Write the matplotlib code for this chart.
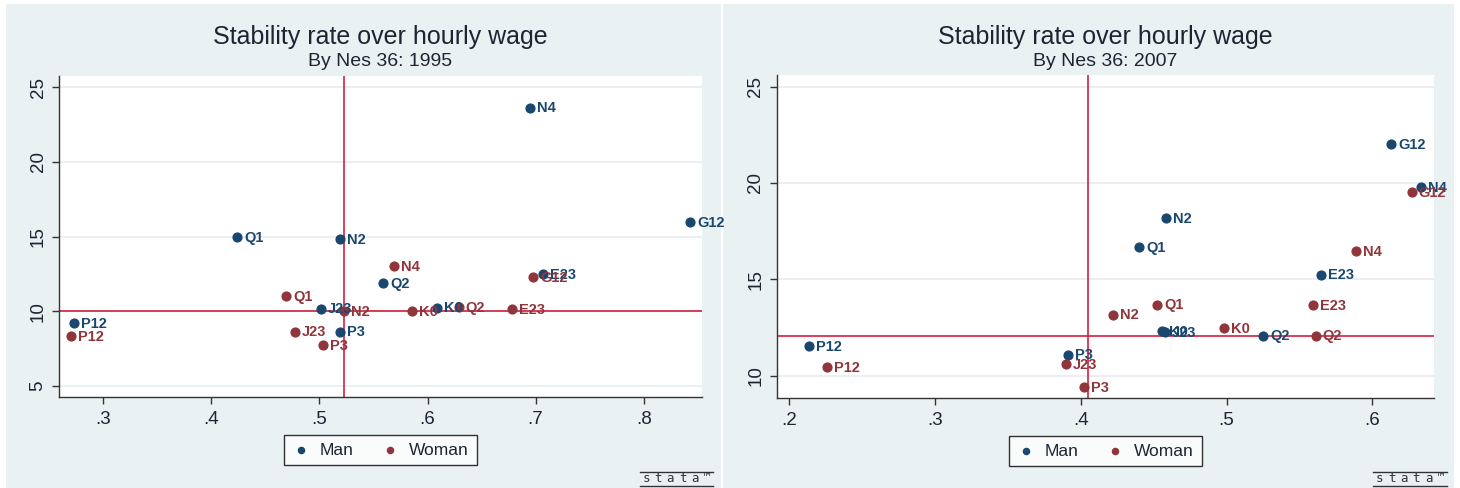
import numpy as np
import matplotlib
matplotlib.use('Agg')
import matplotlib.pyplot as plt
from matplotlib.patches import Rectangle
from matplotlib.lines import Line2D

plt.rcParams['font.family'] = ['Liberation Sans', 'DejaVu Sans']

'Groups (same order for both years)'
groups = ['P12', 'Q1', 'J23', 'P3', 'N2', 'N4', 'K0', 'Q2', 'E23', 'G12']

'1995: hourly wage (x) and stability rate (y)'
man_x_1995 = [.273, .424, .501, .519, .519, .695, .609, .559, .707, .843]
man_y_1995 = [9.19, 14.95, 10.17, 8.63, 14.82, 23.63, 10.24, 11.87, 12.47, 15.96]
woman_x_1995 = [.270, .469, .477, .503, .523, .569, .586, .629, .678, .698]
woman_y_1995 = [8.34, 11.02, 8.63, 7.74, 10.03, 13.03, 10.03, 10.28, 10.15, 12.31]
xline_1995 = .523
yline_1995 = 10.03

'2007'
man_x_2007 = [.214, .440, .458, .3915, .4586, .6336, .456, .525, .565, .613]
man_y_2007 = [11.52, 16.66, 12.25, 11.09, 18.18, 19.77, 12.32, 12.07, 15.24, 22.0]
woman_x_2007 = [.226, .4525, .390, .402, .422, .589, .498, .561, .559, .627]
woman_y_2007 = [10.45, 13.68, 10.61, 9.39, 13.16, 16.45, 12.47, 12.07, 13.65, 19.53]
xline_2007 = .405
yline_2007 = 12.04

xticks_1995 = [.3, .4, .5, .6, .7, .8]
yticks_1995 = [5, 10, 15, 20, 25]
xticks_2007 = [.2, .3, .4, .5, .6]
yticks_2007 = [10, 15, 20, 25]

navy = '#1a476f'
maroon = '#90353b'
refred = '#d0203f'
bg = '#e9f1f3'
grid = '#e6eef0'
txt = '#1f2433'

W, H = 1460, 488
fig = plt.figure(figsize=(W / 100, H / 100), dpi=100)

# panel backgrounds
for x0, x1 in [(6, 721), (723, 1454)]:
    fig.add_artist(Rectangle((x0 / W, 0), (x1 - x0) / W, 1 - 4 / H,
                             transform=fig.transFigure, facecolor=bg,
                             edgecolor='none', zorder=0))


def fmt_x(v):
    return ('%.1f' % v).lstrip('0')


def panel(rect, year, mx, my, wx, wy, xl, yl, xt, yt, xlim, ylim, logo_x):
    ax = fig.add_axes(rect)
    ax.set_facecolor('white')
    ax.set_xlim(*xlim)
    ax.set_ylim(*ylim)
    for s in ['top', 'right']:
        ax.spines[s].set_visible(False)
    for s in ['left', 'bottom']:
        ax.spines[s].set_color('#333333')
        ax.spines[s].set_linewidth(1.0)
    ax.set_xticks(xt)
    ax.set_xticklabels([fmt_x(v) for v in xt])
    ax.set_yticks(yt)
    ax.set_yticklabels([str(v) for v in yt], rotation=90, va='center')
    ax.tick_params(direction='out', length=5, width=1, color='#333333',
                   labelsize=13.5, labelcolor=txt, pad=4)
    ax.tick_params(axis='x', pad=5)
    for v in yt:
        ax.axhline(v, color=grid, lw=1.2, zorder=1)

    ax.axvline(xl, color=refred, lw=1.2, zorder=2)
    ax.axhline(yl, color=refred, lw=1.2, zorder=2)

    ax.scatter(mx, my, s=40, color=navy, zorder=3, label='Man')
    ax.scatter(wx, wy, s=40, color=maroon, zorder=3, label='Woman')
    for g, x, y in zip(groups, mx, my):
        ax.annotate(g, (x, y), xytext=(5, -0.5), textcoords='offset points',
                    ha='left', va='center', fontsize=10.5, fontweight='bold',
                    color=navy, zorder=4, annotation_clip=False)
    for g, x, y in zip(groups, wx, wy):
        ax.annotate(g, (x, y), xytext=(5, -0.5), textcoords='offset points',
                    ha='left', va='center', fontsize=10.5, fontweight='bold',
                    color=maroon, zorder=4, annotation_clip=False)

    cx = rect[0] + rect[2] / 2
    fig.text(cx, 1 - 37 / H, 'Stability rate over hourly wage', ha='center',
             va='center', fontsize=18, color=txt)
    fig.text(cx, 1 - 62 / H, 'By Nes 36: %d' % year, ha='center',
             va='center', fontsize=14, color=txt)

    leg = ax.legend(loc='center', bbox_to_anchor=(0.5, -53 / (rect[3] * H)),
                    ncol=2, frameon=True, fancybox=False, fontsize=12.5,
                    markerscale=0.7, handletextpad=0.6, columnspacing=1.6,
                    borderpad=0.45, handlelength=1.0)
    leg.get_frame().set_edgecolor('black')
    leg.get_frame().set_linewidth(1.0)
    for t in leg.get_texts():
        t.set_color(txt)

    # small stata logo in the corner, letters spread over the rule width
    lx0, lx1 = logo_x
    fig.add_artist(Line2D([lx0 / W, lx1 / W], [1 - 472 / H, 1 - 472 / H],
                          transform=fig.transFigure, color='#333333', lw=1))
    fig.add_artist(Line2D([lx0 / W, lx1 / W], [1 - 486 / H, 1 - 486 / H],
                          transform=fig.transFigure, color='#333333', lw=1))
    logo = 'stata\u2122'
    step = (lx1 - lx0) / len(logo)
    for i, ch in enumerate(logo):
        fig.text((lx0 + step * (i + 0.5)) / W, 1 - 479 / H, ch, ha='center',
                 va='center', fontsize=9, color='#333333',
                 family='DejaVu Sans Mono')
    return ax


panel([59 / W, 1 - 397 / H, 643 / W, 321 / H], 1995,
      man_x_1995, man_y_1995, woman_x_1995, woman_y_1995,
      xline_1995, yline_1995, xticks_1995, yticks_1995,
      (.259, .854), (4.26, 25.76), (640, 713))

panel([777 / W, 1 - 398 / H, 657 / W, 323 / H], 2007,
      man_x_2007, man_y_2007, woman_x_2007, woman_y_2007,
      xline_2007, yline_2007, xticks_2007, yticks_2007,
      (.1918, .6422), (8.84, 25.6), (1373, 1447))

fig.savefig('out.png', dpi=100, facecolor='white')
